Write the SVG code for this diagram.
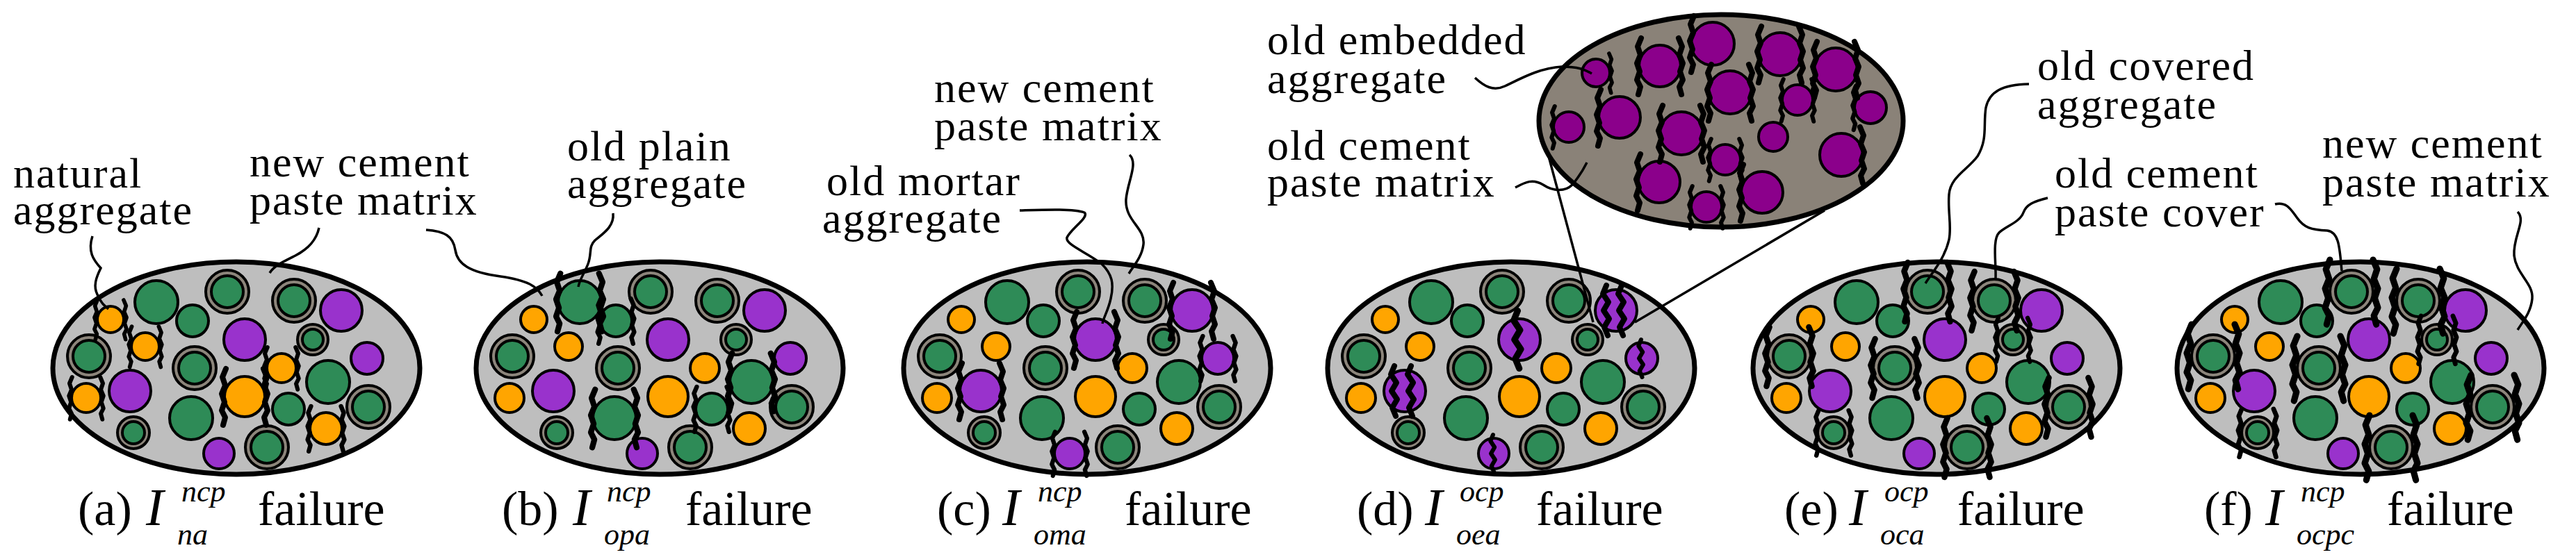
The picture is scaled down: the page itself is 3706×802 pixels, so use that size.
<svg xmlns="http://www.w3.org/2000/svg" xmlns:xlink="http://www.w3.org/1999/xlink" width="3706" height="802" viewBox="0 0 3706 802">
<style>
.m{fill:#bebebe;stroke:#000;stroke-width:7}
.o{fill:#ffa500;stroke:#000;stroke-width:4}
.g{fill:#2e8b57;stroke:#000;stroke-width:4}
.p{fill:#9932cc;stroke:#000;stroke-width:4}
.rb{fill:#8c857b;stroke:#000;stroke-width:4}
.ip{fill:#8b008b;stroke:#000;stroke-width:4}
.im{fill:#8a8278;stroke:#000;stroke-width:7}
.c{fill:none;stroke:#000;stroke-width:8;stroke-linejoin:round;stroke-linecap:round}
.l{fill:none;stroke:#000;stroke-width:3.5}
.t{font-size:62px;letter-spacing:2px}
.cap{font-size:70px}
.i{font-style:italic;font-size:76px}
.s{font-size:44px;font-style:italic}
</style>
<defs>
<path id="cl" class="c" d="M-27,-40 L-32,-28 L-28,-16 L-33,-4 L-29,8 L-33,20 L-28,30 L-31,41"/>
<path id="cr" class="c" d="M27,-40 L32,-28 L28,-16 L33,-4 L29,8 L33,20 L28,30 L31,41"/>
<path id="ct" class="c" d="M-4,-36 L-9,-24 L-1,-12 L-8,0 L0,12 L-7,24 L-2,36"/>
<g id="grains">
<ellipse class="m" cx="340" cy="530" rx="264" ry="153"/>
<circle class="g" cx="225" cy="435" r="31"/>
<circle class="g" cx="277" cy="462" r="23"/>
<circle class="rb" cx="327" cy="420" r="31"/><circle class="g" cx="327" cy="420" r="23"/>
<circle class="rb" cx="423" cy="433" r="31"/><circle class="g" cx="423" cy="433" r="23"/>
<circle class="p" cx="491" cy="447" r="30"/>
<circle class="o" cx="159" cy="460" r="19"/>
<circle class="o" cx="209" cy="499" r="20"/>
<circle class="rb" cx="128" cy="513" r="31"/><circle class="g" cx="128" cy="513" r="23"/>
<circle class="p" cx="352" cy="489" r="30"/>
<circle class="rb" cx="450" cy="489" r="22"/><circle class="g" cx="450" cy="489" r="15"/>
<circle class="p" cx="528" cy="516" r="23"/>
<circle class="o" cx="405" cy="530" r="21"/>
<circle class="rb" cx="280" cy="530" r="31"/><circle class="g" cx="280" cy="530" r="23"/>
<circle class="o" cx="124" cy="573" r="21"/>
<circle class="p" cx="187" cy="563" r="30"/>
<circle class="o" cx="352" cy="571" r="29"/>
<circle class="g" cx="472" cy="550" r="31"/>
<circle class="g" cx="415" cy="589" r="23"/>
<circle class="rb" cx="530" cy="586" r="31"/><circle class="g" cx="530" cy="586" r="23"/>
<circle class="g" cx="275" cy="602" r="31"/>
<circle class="rb" cx="192" cy="623" r="23"/><circle class="g" cx="192" cy="623" r="16"/>
<circle class="p" cx="315" cy="653" r="22"/>
<circle class="rb" cx="384" cy="644" r="31"/><circle class="g" cx="384" cy="644" r="23"/>
<circle class="o" cx="469" cy="617" r="23"/>
</g>
</defs>

<g id="panel-a">
<use xlink:href="#grains"/>
<use xlink:href="#cl" transform="translate(159,460) scale(0.7)"/><use xlink:href="#cr" transform="translate(159,460) scale(0.7)"/>
<use xlink:href="#cl" transform="translate(209,499) scale(0.72)"/><use xlink:href="#cr" transform="translate(209,499) scale(0.72)"/>
<use xlink:href="#cl" transform="translate(405,530) scale(0.75)"/><use xlink:href="#cr" transform="translate(405,530) scale(0.75)"/>
<use xlink:href="#cl" transform="translate(124,573) scale(0.75)"/><use xlink:href="#cr" transform="translate(124,573) scale(0.75)"/>
<use xlink:href="#cl" transform="translate(352,571)"/><use xlink:href="#cr" transform="translate(352,571)"/>
<use xlink:href="#cl" transform="translate(469,617) scale(0.8)"/><use xlink:href="#cr" transform="translate(469,617) scale(0.8)"/>
</g>

<g id="panel-b" transform="translate(609,0)">
<use xlink:href="#grains"/>
<use xlink:href="#cl" transform="translate(225,435) scale(1.03)"/><use xlink:href="#cr" transform="translate(225,435) scale(1.03)"/>
<use xlink:href="#cl" transform="translate(277,462) scale(0.8)"/><use xlink:href="#cr" transform="translate(277,462) scale(0.8)"/>
<use xlink:href="#cl" transform="translate(472,550) scale(1.03)"/><use xlink:href="#cr" transform="translate(472,550) scale(1.03)"/>
<use xlink:href="#cl" transform="translate(415,589) scale(0.8)"/><use xlink:href="#cr" transform="translate(415,589) scale(0.8)"/>
<use xlink:href="#cl" transform="translate(275,602) scale(1.03)"/><use xlink:href="#cr" transform="translate(275,602) scale(1.03)"/>
</g>

<g id="panel-c" transform="translate(1224,0)">
<use xlink:href="#grains"/>
<use xlink:href="#cl" transform="translate(352,489)"/><use xlink:href="#cr" transform="translate(352,489)"/>
<use xlink:href="#cl" transform="translate(491,447)"/><use xlink:href="#cr" transform="translate(491,447)"/>
<use xlink:href="#cl" transform="translate(528,516) scale(0.8)"/><use xlink:href="#cr" transform="translate(528,516) scale(0.8)"/>
<use xlink:href="#cl" transform="translate(187,563)"/><use xlink:href="#cr" transform="translate(187,563)"/>
<use xlink:href="#cl" transform="translate(315,653) scale(0.78)"/><use xlink:href="#cr" transform="translate(315,653) scale(0.78)"/>
</g>

<g id="panel-d" transform="translate(1834,0)">
<use xlink:href="#grains"/>
<use xlink:href="#ct" transform="translate(481,447)"/><use xlink:href="#ct" transform="translate(503,447)"/>
<use xlink:href="#ct" transform="translate(354,489) scale(1.15)"/>
<use xlink:href="#ct" transform="translate(530,516) scale(0.75)"/>
<use xlink:href="#ct" transform="translate(176,563)"/><use xlink:href="#ct" transform="translate(200,563)"/>
<use xlink:href="#ct" transform="translate(317,653) scale(0.75)"/>
</g>

<g id="panel-e" transform="translate(2446,0)">
<use xlink:href="#grains"/>
<use xlink:href="#cl" transform="translate(327,420) scale(1.05)"/><use xlink:href="#cr" transform="translate(327,420) scale(1.05)"/>
<use xlink:href="#cl" transform="translate(423,433) scale(1.05)"/><use xlink:href="#cr" transform="translate(423,433) scale(1.05)"/>
<use xlink:href="#cl" transform="translate(128,513) scale(1.05)"/><use xlink:href="#cr" transform="translate(128,513) scale(1.05)"/>
<use xlink:href="#cl" transform="translate(450,489) scale(0.78)"/><use xlink:href="#cr" transform="translate(450,489) scale(0.78)"/>
<use xlink:href="#cl" transform="translate(280,530) scale(1.05)"/><use xlink:href="#cr" transform="translate(280,530) scale(1.05)"/>
<use xlink:href="#cl" transform="translate(530,586) scale(1.05)"/><use xlink:href="#cr" transform="translate(530,586) scale(1.05)"/>
<use xlink:href="#cl" transform="translate(192,623) scale(0.8)"/><use xlink:href="#cr" transform="translate(192,623) scale(0.8)"/>
<use xlink:href="#cl" transform="translate(384,644) scale(1.05)"/><use xlink:href="#cr" transform="translate(384,644) scale(1.05)"/>
</g>

<g id="panel-f" transform="translate(3056,0)">
<use xlink:href="#grains"/>
<use xlink:href="#cl" transform="translate(327,420) scale(1.15)"/><use xlink:href="#cr" transform="translate(327,420) scale(1.15)"/>
<use xlink:href="#cl" transform="translate(423,433) scale(1.15)"/><use xlink:href="#cr" transform="translate(423,433) scale(1.15)"/>
<use xlink:href="#cl" transform="translate(128,513) scale(1.15)"/><use xlink:href="#cr" transform="translate(128,513) scale(1.15)"/>
<use xlink:href="#cl" transform="translate(450,489) scale(0.85)"/><use xlink:href="#cr" transform="translate(450,489) scale(0.85)"/>
<use xlink:href="#cl" transform="translate(280,530) scale(1.15)"/><use xlink:href="#cr" transform="translate(280,530) scale(1.15)"/>
<use xlink:href="#cl" transform="translate(530,586) scale(1.15)"/><use xlink:href="#cr" transform="translate(530,586) scale(1.15)"/>
<use xlink:href="#cl" transform="translate(192,623) scale(0.85)"/><use xlink:href="#cr" transform="translate(192,623) scale(0.85)"/>
<use xlink:href="#cl" transform="translate(384,644) scale(1.15)"/><use xlink:href="#cr" transform="translate(384,644) scale(1.15)"/>
</g>

<g id="inset">
<ellipse class="im" cx="2476" cy="174" rx="262" ry="153"/>
<circle class="ip" cx="2296" cy="105" r="20"/>
<circle class="ip" cx="2388" cy="95" r="30"/>
<circle class="ip" cx="2464" cy="63" r="31"/>
<circle class="ip" cx="2561" cy="78" r="31"/>
<circle class="ip" cx="2641" cy="100" r="31"/>
<circle class="ip" cx="2489" cy="133" r="31"/>
<circle class="ip" cx="2586" cy="144" r="22"/>
<circle class="ip" cx="2691" cy="155" r="23"/>
<circle class="ip" cx="2257" cy="183" r="22"/>
<circle class="ip" cx="2330" cy="169" r="30"/>
<circle class="ip" cx="2419" cy="192" r="31"/>
<circle class="ip" cx="2551" cy="197" r="21"/>
<circle class="ip" cx="2482" cy="230" r="22"/>
<circle class="ip" cx="2649" cy="223" r="31"/>
<circle class="ip" cx="2387" cy="262" r="30"/>
<circle class="ip" cx="2535" cy="277" r="30"/>
<circle class="ip" cx="2455" cy="298" r="22"/>
<use xlink:href="#cr" transform="translate(2296,105) scale(0.7)"/>
<use xlink:href="#cl" transform="translate(2388,95)"/><use xlink:href="#cr" transform="translate(2388,95)"/>
<use xlink:href="#cl" transform="translate(2464,63)"/>
<use xlink:href="#cl" transform="translate(2561,78)"/><use xlink:href="#cr" transform="translate(2561,78)"/>
<use xlink:href="#cl" transform="translate(2641,100)"/><use xlink:href="#cr" transform="translate(2641,100)"/>
<use xlink:href="#cl" transform="translate(2489,133)"/><use xlink:href="#cr" transform="translate(2489,133)"/>
<use xlink:href="#cl" transform="translate(2586,144) scale(0.75)"/><use xlink:href="#cr" transform="translate(2586,144) scale(0.75)"/>
<use xlink:href="#cl" transform="translate(2691,155) scale(0.78)"/>
<use xlink:href="#cl" transform="translate(2257,183) scale(0.75)"/>
<use xlink:href="#cl" transform="translate(2330,169)"/>
<use xlink:href="#cl" transform="translate(2419,192)"/><use xlink:href="#cr" transform="translate(2419,192)"/>
<use xlink:href="#cl" transform="translate(2482,230) scale(0.75)"/><use xlink:href="#cr" transform="translate(2482,230) scale(0.75)"/>
<use xlink:href="#cr" transform="translate(2649,223)"/>
<use xlink:href="#cl" transform="translate(2387,262)"/>
<use xlink:href="#cl" transform="translate(2535,277)"/>
<use xlink:href="#cl" transform="translate(2455,298) scale(0.75)"/><use xlink:href="#cr" transform="translate(2455,298) scale(0.75)"/>
</g>

<g id="connectors">
<path class="l" d="M2225,214 L2292,464"/>
<path class="l" d="M2352,464 L2625,303"/>
<path class="l" d="M133,340 C126,362 134,374 145,386 C138,400 134,412 140,424 C145,436 150,440 156,445"/>
<path class="l" d="M459,328 C455,346 444,358 425,368 C405,378 394,383 388,393"/>
<path class="l" d="M613,331 C640,333 652,340 655,360 C658,380 675,392 720,398 C760,404 772,412 780,426"/>
<path class="l" d="M882,307 C884,326 868,336 856,346 C846,356 852,364 846,380 C840,395 834,402 832,413"/>
<path class="l" d="M1467,303 C1500,302 1545,300 1560,306 C1568,312 1540,330 1535,342 C1532,352 1565,364 1585,380 C1600,395 1603,408 1598,430 C1594,448 1588,456 1586,466"/>
<path class="l" d="M1625,223 C1638,235 1622,262 1620,287 C1618,318 1648,328 1645,352 C1643,370 1630,384 1624,394"/>
<path class="l" d="M2122,112 C2135,124 2148,132 2165,124 C2190,112 2215,98 2247,96 C2270,96 2280,100 2290,106"/>
<path class="l" d="M2180,270 C2195,262 2205,257 2220,266 C2235,276 2252,276 2262,266 C2272,254 2278,244 2283,234"/>
<path class="l" d="M2919,121 C2880,122 2862,132 2857,155 C2853,180 2860,200 2845,225 C2830,245 2806,255 2804,280 C2802,305 2808,325 2804,345 C2798,372 2780,392 2770,408"/>
<path class="l" d="M2946,285 C2925,290 2915,295 2911,306 C2906,320 2885,326 2876,335 C2866,345 2872,380 2871,401"/>
<path class="l" d="M3273,294 C3290,290 3296,302 3305,314 C3315,328 3325,331 3348,332 C3366,334 3366,360 3369,390"/>
<path class="l" d="M3622,305 C3635,318 3615,340 3617,368 C3620,395 3645,408 3643,430 C3641,450 3630,462 3622,475"/>
</g>

<g id="labels" font-family="Liberation Serif, DejaVu Serif, serif" fill="#000">
<text class="t" x="19" y="270">natural</text>
<text class="t" x="19" y="323">aggregate</text>
<text class="t" x="359" y="254">new cement</text>
<text class="t" x="359" y="309">paste matrix</text>
<text class="t" x="816" y="231">old plain</text>
<text class="t" x="816" y="285">aggregate</text>
<text class="t" x="1344" y="147">new cement</text>
<text class="t" x="1344" y="202">paste matrix</text>
<text class="t" x="1469" y="281" text-anchor="end">old mortar</text>
<text class="t" x="1442" y="335" text-anchor="end">aggregate</text>
<text class="t" x="1823" y="78">old embedded</text>
<text class="t" x="1823" y="134">aggregate</text>
<text class="t" x="1823" y="230">old cement</text>
<text class="t" x="1823" y="283">paste matrix</text>
<text class="t" x="2931" y="115">old covered</text>
<text class="t" x="2931" y="171">aggregate</text>
<text class="t" x="2956" y="270">old cement</text>
<text class="t" x="2956" y="326">paste cover</text>
<text class="t" x="3341" y="227">new cement</text>
<text class="t" x="3341" y="283">paste matrix</text>
</g>

<g id="captions" font-family="Liberation Serif, DejaVu Serif, serif" fill="#000">
<text class="cap" x="112" y="756">(a) <tspan class="i" x="210">I</tspan><tspan class="s" x="261" y="722">ncp</tspan><tspan class="s" x="255" y="784">na</tspan><tspan x="371" y="756">failure</tspan></text>
<text class="cap" x="722" y="756">(b) <tspan class="i" x="824">I</tspan><tspan class="s" x="873" y="722">ncp</tspan><tspan class="s" x="869" y="784">opa</tspan><tspan x="986" y="756">failure</tspan></text>
<text class="cap" x="1348" y="756">(c) <tspan class="i" x="1442">I</tspan><tspan class="s" x="1493" y="722">ncp</tspan><tspan class="s" x="1487" y="784">oma</tspan><tspan x="1618" y="756">failure</tspan></text>
<text class="cap" x="1952" y="756">(d) <tspan class="i" x="2050">I</tspan><tspan class="s" x="2100" y="722">ocp</tspan><tspan class="s" x="2095" y="784">oea</tspan><tspan x="2210" y="756">failure</tspan></text>
<text class="cap" x="2567" y="756">(e) <tspan class="i" x="2660">I</tspan><tspan class="s" x="2711" y="722">ocp</tspan><tspan class="s" x="2705" y="784">oca</tspan><tspan x="2816" y="756">failure</tspan></text>
<text class="cap" x="3171" y="756">(f) <tspan class="i" x="3259">I</tspan><tspan class="s" x="3310" y="722">ncp</tspan><tspan class="s" x="3304" y="784">ocpc</tspan><tspan x="3434" y="756">failure</tspan></text>
</g>
</svg>
